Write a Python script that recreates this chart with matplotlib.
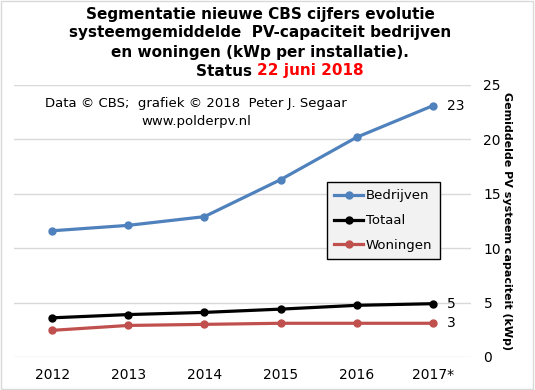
import matplotlib
matplotlib.use("Agg")
import matplotlib.pyplot as plt

# Data
years = ["2012", "2013", "2014", "2015", "2016", "2017*"]
bedrijven = [11.6, 12.1, 12.9, 16.3, 20.2, 23.1]
totaal = [3.6, 3.9, 4.1, 4.4, 4.75, 4.9]
woningen = [2.45, 2.9, 3.0, 3.1, 3.1, 3.1]
end_labels = ["23", "5", "3"]

title_lines = ["Segmentatie nieuwe CBS cijfers evolutie",
               "systeemgemiddelde  PV-capaciteit bedrijven",
               "en woningen (kWp per installatie)."]

fig = plt.figure(figsize=(5.35, 3.9), dpi=100)
W, H = 535, 390
ax = fig.add_axes([14 / W, 1 - 357 / H, (471 - 14) / W, (357 - 85) / H])

x = list(range(len(years)))
series = [(bedrijven, "#4f81bd", "Bedrijven"),
          (totaal, "black", "Totaal"),
          (woningen, "#c0504d", "Woningen")]
for vals, col, lab in series:
    ax.plot(x, vals, color=col, lw=2.3, marker="o", ms=5, label=lab)

for vals, txt in zip([bedrijven, totaal, woningen], end_labels):
    ax.annotate(txt, (x[-1], vals[-1]), xytext=(10, 0), textcoords="offset points",
                va="center", ha="left", fontsize=10)

ax.set_xlim(-0.5, len(years) - 0.5)
ax.set_ylim(0, 25)
ax.set_xticks(x)
ax.set_xticklabels(years, fontsize=10)
ax.set_yticks(range(0, 26, 5))
ax.yaxis.tick_right()
ax.tick_params(axis="y", length=0, pad=9, labelsize=10)
ax.tick_params(axis="x", length=0, pad=8)
ax.grid(axis="y", color="#d9d9d9", lw=1)
ax.set_axisbelow(True)
for s in ax.spines.values():
    s.set_visible(False)

ax.yaxis.set_label_position("right")
ax.set_ylabel("Gemiddelde PV systeem capaciteit (kWp)", rotation=-90,
              fontsize=8, fontweight="bold", labelpad=8)

leg = ax.legend(loc="upper left", bbox_to_anchor=((327 - 14) / 457, 1 - (182 - 85) / 272),
                fontsize=9.5, frameon=True, fancybox=False, edgecolor="black",
                facecolor="#f2f2f2", framealpha=1, handlelength=2.2,
                handletextpad=0.2, labelspacing=0.9, borderpad=0.55,
                borderaxespad=0)
leg.get_frame().set_linewidth(1)

for i, line in enumerate(title_lines):
    fig.text(260 / W, 1 - (14 + i * 19) / H, line, ha="center", va="center",
             fontsize=11, fontweight="bold")
fig.text(257 / W, 1 - 71 / H, "Status ", ha="right", va="center",
         fontsize=11, fontweight="bold")
fig.text(257 / W, 1 - 71 / H, "22 juni 2018", ha="left", va="center",
         fontsize=11, fontweight="bold", color="#ff0000")

fig.text(45 / W, 1 - 104 / H, "Data \u00a9 CBS;  grafiek \u00a9 2018  Peter J. Segaar",
         ha="left", va="center", fontsize=9.5)
fig.text(196 / W, 1 - 122 / H, "www.polderpv.nl", ha="center", va="center", fontsize=9.5)

fig.patches.append(plt.Rectangle((0.002, 0.003), 0.995, 0.994, transform=fig.transFigure,
                                 fill=False, edgecolor="#d9d9d9", lw=1))

fig.savefig("out.png", dpi=100)
